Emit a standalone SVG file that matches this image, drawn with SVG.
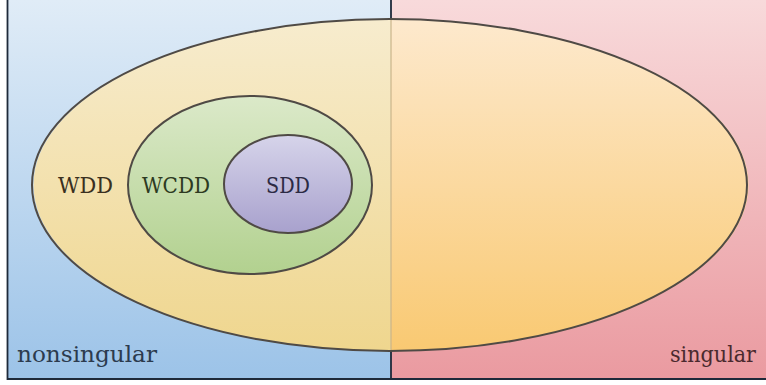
<svg xmlns="http://www.w3.org/2000/svg" width="766" height="385" viewBox="0 0 766 385">
<defs>
<linearGradient id="gBlue" x1="0" y1="0" x2="0" y2="1"><stop offset="0" stop-color="#e0ecf7"/><stop offset="1" stop-color="#9cc3e8"/></linearGradient>
<linearGradient id="gPink" x1="0" y1="0" x2="0" y2="1"><stop offset="0" stop-color="#f8dadb"/><stop offset="1" stop-color="#ea9aa0"/></linearGradient>
<linearGradient id="gYel" x1="0" y1="0" x2="0" y2="1"><stop offset="0" stop-color="#f7ecce"/><stop offset="1" stop-color="#efd68e"/></linearGradient>
<linearGradient id="gOra" x1="0" y1="0" x2="0" y2="1"><stop offset="0" stop-color="#fde9cd"/><stop offset="1" stop-color="#f9c972"/></linearGradient>
<linearGradient id="gGreen" x1="0" y1="0" x2="0" y2="1"><stop offset="0" stop-color="#dbe9c9"/><stop offset="1" stop-color="#b2d18f"/></linearGradient>
<linearGradient id="gPurp" x1="0" y1="0" x2="0" y2="1"><stop offset="0" stop-color="#d6d4ea"/><stop offset="1" stop-color="#a8a1cd"/></linearGradient>
</defs>
<style>
.ell{stroke:#4f4a45;stroke-width:2}
.lbl{font-family:"DejaVu Serif","Liberation Serif",serif;font-size:22px}
.frame{stroke:#1e2a3a;stroke-width:1.8;fill:none}
</style>
<g id="nonsingular">
<rect x="7.5" y="0" width="383.5" height="379" fill="url(#gBlue)"/>
<text class="lbl" x="17" y="362" fill="#2c3b4e" textLength="140" lengthAdjust="spacingAndGlyphs" style="font-size:23px">nonsingular</text>
</g>
<g id="singular">
<rect x="391" y="0" width="375" height="379" fill="url(#gPink)"/>
<text class="lbl" x="670" y="362" fill="#4a2a2e" textLength="86" lengthAdjust="spacingAndGlyphs" style="font-size:23px">singular</text>
</g>
<path class="frame" d="M7.5 0 V379 H766 M391 0 V379"/>
<g id="WDD">
<path d="M391 19 A357.5 166 0 0 0 391 351 Z" fill="url(#gYel)"/>
<path d="M391 19 A357.5 166 0 0 1 391 351 Z" fill="url(#gOra)"/>
<line x1="391" y1="19" x2="391" y2="351" stroke="#c9b48a" stroke-width="1.2"/>
<ellipse class="ell" cx="389.5" cy="185" rx="357.5" ry="166" fill="none"/>
<text class="lbl" x="58" y="193" fill="#3a3020" textLength="55" lengthAdjust="spacingAndGlyphs">WDD</text>
</g>
<g id="WCDD">
<ellipse class="ell" cx="250" cy="185" rx="122" ry="89" fill="url(#gGreen)"/>
<text class="lbl" x="142" y="193" fill="#2d3a22" textLength="68" lengthAdjust="spacingAndGlyphs">WCDD</text>
</g>
<g id="SDD">
<ellipse class="ell" cx="288" cy="184" rx="64" ry="49" fill="url(#gPurp)"/>
<text class="lbl" x="266" y="193" fill="#2c2a44" textLength="44" lengthAdjust="spacingAndGlyphs">SDD</text>
</g>
<g id="connectors"/>
</svg>
